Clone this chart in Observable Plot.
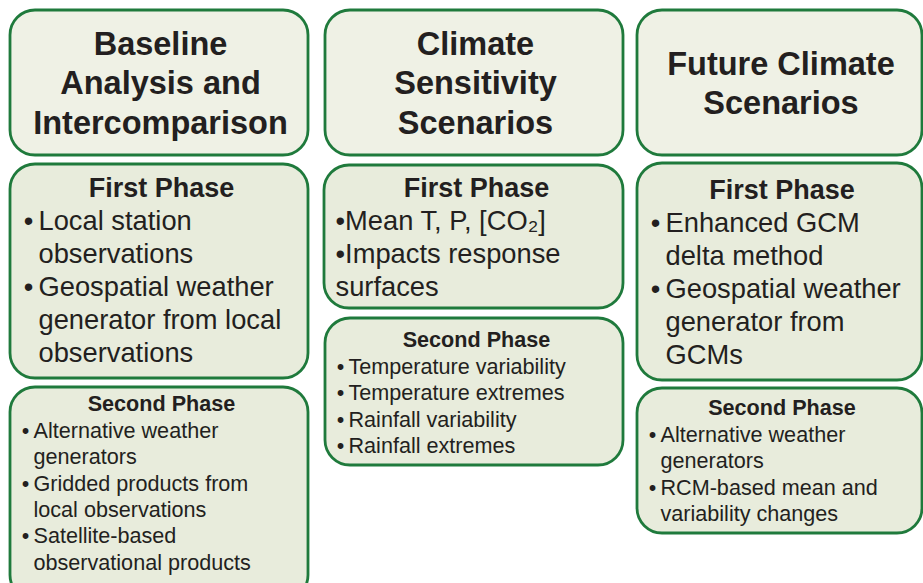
<!DOCTYPE html>
<html>
<head>
<meta charset="utf-8">
<script src="https://cdn.jsdelivr.net/npm/d3@7"></script>
<script src="https://cdn.jsdelivr.net/npm/@observablehq/plot@0.6"></script>
<style>
  html, body { margin: 0; padding: 0; background: #ffffff; }
</style>
</head>
<body>
<div id="chart"></div>
<script>
// ---- Content ----
const headers = [
  ["Baseline", "Analysis and", "Intercomparison"],
  ["Climate", "Sensitivity", "Scenarios"],
  ["Future Climate", "Scenarios"]
];
const phaseNames = ["First Phase", "Second Phase"];
const firstPhaseItems = [
  [["Local station", "observations"], ["Geospatial weather", "generator from local", "observations"]],
  [["•Mean T, P, [CO₂]"], ["•Impacts response", "surfaces"]],
  [["Enhanced GCM", "delta method"], ["Geospatial weather", "generator from", "GCMs"]]
];
const firstPhaseHangingBullets = [true, false, true];
const secondPhaseItems = [
  [["Alternative weather", "generators"], ["Gridded products from", "local observations"], ["Satellite-based", "observational products"]],
  [["Temperature variability"], ["Temperature extremes"], ["Rainfall variability"], ["Rainfall extremes"]],
  [["Alternative weather", "generators"], ["RCM-based mean and", "variability changes"]]
];

// ---- Layout (pixel space) ----
const colX = [[10, 308], [325, 623], [637, 922]];
const headerY = [[10, 155], [10, 155], [10, 155]];
const firstY = [[164, 378], [165, 308], [163, 380]];
const secondY = [[387, 600], [318, 465], [388, 533]];
const firstTitleOffset = [24, 23, 27];
const secondTitleOffset = [17, 22, 20];

const green = "#1f7a3c";
const headerFill = "#eff1e5";
const phaseFill = "#e8ecdc";
const ink = "#231f20";
const font = "'Liberation Sans', Arial, Helvetica, sans-serif";

const boxes = [];
const headerLines = [];
const titles = [];
const bodyLines = [];
const bullets = [];

headers.forEach((lines, c) => {
  const [x1, x2] = colX[c];
  boxes.push({x1, x2, y1: headerY[c][0], y2: headerY[c][1], fill: headerFill, r: 24});
  const cy = (headerY[c][0] + headerY[c][1]) / 2;
  const lh = 39.5;
  lines.forEach((t, i) => {
    headerLines.push({x: (x1 + x2) / 2 + 1, y: cy + (i - (lines.length - 1) / 2) * lh + 1, text: t});
  });
});

function addPhase(c, ys, titleOff, name, items, lh, bulletDx, textDx, hanging, size) {
  const [x1, x2] = colX[c];
  boxes.push({x1: x1 + (c === 1 && name === "First Phase" ? -1 : 0), x2, y1: ys[0], y2: ys[1], fill: phaseFill, r: size.r});
  const ty = ys[0] + titleOff;
  titles.push({x: (x1 + x2) / 2 + 2, y: ty, text: name, size: size.title});
  let k = 1;
  items.forEach(item => {
    item.forEach((t, j) => {
      const y = ty + k * lh;
      if (hanging && j === 0) bullets.push({x: x1 + bulletDx, y, size: size.body});
      bodyLines.push({x: x1 + (hanging ? textDx : 10), y, text: t, size: size.body});
      k++;
    });
  });
}

for (let c = 0; c < 3; c++) {
  addPhase(c, firstY[c], firstTitleOffset[c], phaseNames[0], firstPhaseItems[c], 33, 18, 28, firstPhaseHangingBullets[c], {title: 27, body: 27.3, r: 28});
  addPhase(c, secondY[c], secondTitleOffset[c], phaseNames[1], secondPhaseItems[c], 26.4, 15, 23, true, {title: 21.6, body: 21.6, r: 26});
}

const chart = Plot.plot({
  width: 923,
  height: 583,
  margin: 0,
  x: {type: "identity", axis: null},
  y: {type: "identity", axis: null},
  style: {fontFamily: font, background: "#ffffff", color: ink},
  marks: [
    Plot.rect(boxes, {x1: "x1", x2: "x2", y1: "y1", y2: "y2", fill: d => d.fill, stroke: green, strokeWidth: 2.8, rx: 25}),
    Plot.text(headerLines, {x: "x", y: "y", text: "text", fontSize: 32.5, fontWeight: "bold", fill: ink, textAnchor: "middle", lineAnchor: "middle", fontFamily: font}),
    Plot.text(titles, {x: "x", y: "y", text: "text", fontSize: d => d.size, fontWeight: "bold", fill: ink, textAnchor: "middle", lineAnchor: "middle", fontFamily: font}),
    Plot.text(bullets, {x: "x", y: "y", text: () => "•", fontSize: d => d.size, fill: ink, textAnchor: "middle", lineAnchor: "middle", fontFamily: font}),
    Plot.text(bodyLines, {x: "x", y: "y", text: "text", fontSize: d => d.size, fill: ink, textAnchor: "start", lineAnchor: "middle", fontFamily: font})
  ]
});
document.getElementById("chart").appendChild(chart);
</script>
</body>
</html>
